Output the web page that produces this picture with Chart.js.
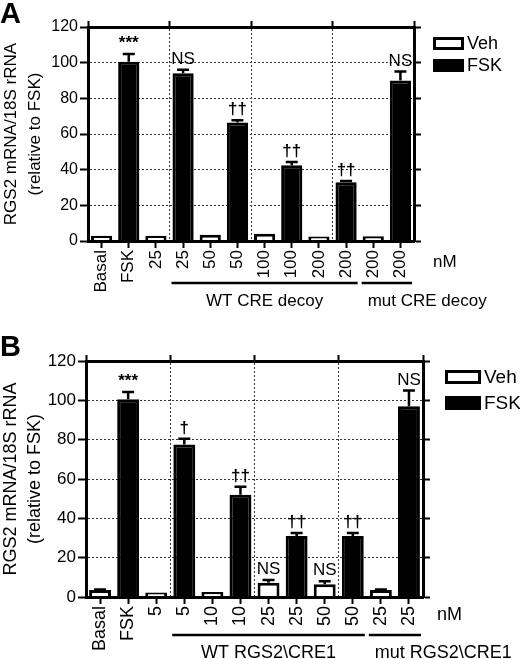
<!DOCTYPE html>
<html>
<head>
<meta charset="utf-8">
<script src="https://cdn.jsdelivr.net/npm/chart.js@4.4.0/dist/chart.umd.min.js"></script>
<style>
  body { margin: 0; background: #fff; width: 520px; height: 659px; position: relative; overflow: hidden; }
  canvas { position: absolute; left: 0; }
  .panel { position: absolute; left: 0; font: bold 29px Arial, "Liberation Sans", sans-serif; }
</style>
</head>
<body>
<canvas id="chartA" width="520" height="330" style="top:0"></canvas>
<canvas id="chartB" width="520" height="329" style="top:330px"></canvas>
<div class="panel" style="top:-3px">A</div>
<div class="panel" style="top:330px">B</div>
<script>
// panel A: CRE decoy
const labelsA = ['Basal', 'FSK', '25', '25', '50', '50', '100', '100', '200', '200', '200', '200'];
const vehA    = [3, null, 3, null, 3.5, null, 4, null, 2.5, null, 2.6, null];
const vehErrA = [0, null, 0, null, 0, null, 0, null, 0, null, 0, null];
const fskA    = [null, 100.5, null, 94, null, 66.5, null, 42.5, null, 33, null, 90];
const fskErrA = [null, 4.3, null, 2, null, 1.2, null, 1.8, null, 0.7, null, 5];
const marksA  = ['', '***', '', 'NS', '', '††', '', '††', '', '††', '', 'NS'];
const groupNamesA = ['WT CRE decoy', 'mut CRE decoy'];
const groupFromA  = [3, 10];
const groupToA    = [9, 11];

// panel B: RGS2\CRE1
const labelsB = ['Basal', 'FSK', '5', '5', '10', '10', '25', '25', '50', '50', '25', '25'];
const vehB    = [3.5, null, 2.3, null, 2.5, null, 7.3, null, 6.5, null, 3.5, null];
const vehErrB = [0.3, null, 0, null, 0, null, 1.3, null, 1.5, null, 0.3, null];
const fskB    = [null, 100.5, null, 77.5, null, 52, null, 31, null, 31, null, 97];
const fskErrB = [null, 3.7, null, 3, null, 4, null, 1.5, null, 1.5, null, 8];
const marksB  = ['', '***', '', '†', '', '††', 'NS', '††', 'NS', '††', '', 'NS'];
const groupNamesB = ['WT RGS2\\CRE1', 'mut RGS2\\CRE1'];
const groupFromB  = [3, 10];
const groupToB    = [9, 11];

const yTicks = [0, 20, 40, 60, 80, 100, 120];
const seriesNames = ['Veh', 'FSK'];
const unitLabel = 'nM';
const yTitle = ['RGS2 mRNA/18S rRNA', '(relative to FSK)'];

const FAMILY = 'Arial, "Liberation Sans", Helvetica, sans-serif';
Chart.defaults.color = '#000';
Chart.defaults.font.family = FAMILY;

// error bars, significance marks, group bars, legend
const extras = {
  id: 'extras',
  afterDatasetsDraw(chart, args, o) {
    const ctx = chart.ctx, y = chart.scales.y, x = chart.scales.x, area = chart.chartArea;
    const tops = [];
    ctx.save();
    ctx.strokeStyle = '#000';
    chart.data.datasets.forEach((ds, di) => {
      const meta = chart.getDatasetMeta(di);
      ds.data.forEach((v, i) => {
        if (v == null) return;
        const bx = meta.data[i].x;
        const e = ds.errors[i] || 0;
        const yv = y.getPixelForValue(v);
        const ye = y.getPixelForValue(v + e);
        tops[i] = e > 0 ? ye - 1 : yv;
        if (e > 0) {
          ctx.lineWidth = o.errWidth;
          ctx.beginPath();
          ctx.moveTo(bx, yv); ctx.lineTo(bx, ye);
          ctx.moveTo(bx - o.cap / 2, ye); ctx.lineTo(bx + o.cap / 2, ye);
          ctx.stroke();
        }
      });
    });
    ctx.fillStyle = '#000';
    ctx.textAlign = 'center';
    ctx.textBaseline = 'alphabetic';
    o.marks.forEach((m, i) => {
      if (!m) return;
      ctx.font = (m === 'NS' ? '' : 'bold ') + o.markFont + 'px ' + FAMILY;
      ctx.fillText(m, x.getPixelForValue(i), tops[i] - o.markGap);
    });

    // group underlines and names
    const half = (x.getPixelForValue(1) - x.getPixelForValue(0)) / 2;
    ctx.font = o.groupFont + 'px ' + FAMILY;
    ctx.textBaseline = 'middle';
    o.groupNames.forEach((g, k) => {
      const x1 = x.getPixelForValue(o.groupFrom[k]) - half + 2;
      const x2 = x.getPixelForValue(o.groupTo[k]) + half - 2;
      ctx.lineWidth = 2.5;
      ctx.beginPath();
      ctx.moveTo(x1, area.bottom + o.lineDy); ctx.lineTo(x2, area.bottom + o.lineDy);
      ctx.stroke();
      const w = ctx.measureText(g).width;
      if (w > x2 - x1) {
        ctx.textAlign = 'left';
        ctx.fillText(g, x1 + 6, area.bottom + o.textDy);
      } else {
        ctx.textAlign = 'center';
        ctx.fillText(g, (x1 + x2) / 2, area.bottom + o.textDy);
      }
    });
    ctx.textAlign = 'left';
    ctx.fillText(unitLabel, area.right + o.unitDx, area.bottom + o.unitDy);

    // legend
    chart.data.datasets.forEach((ds, k) => {
      const lx = area.right + o.legDx, ly = area.top + o.legDy[k];
      ctx.fillStyle = ds.backgroundColor;
      ctx.fillRect(lx, ly, o.boxW, o.boxH);
      ctx.lineWidth = 3;
      ctx.strokeRect(lx + 1.5, ly + 1.5, o.boxW - 3, o.boxH - 3);
      ctx.fillStyle = '#000';
      ctx.font = o.legFont + 'px ' + FAMILY;
      ctx.fillText(ds.label, lx + o.boxW + 3, ly + o.boxH / 2 + 1);
    });
    ctx.restore();
  }
};

function buildChart(id, d, L) {
  const yMin = yTicks[0], yMax = yTicks[yTicks.length - 1], step = yTicks[1] - yTicks[0];
  const clear = 'rgba(0,0,0,0)';
  const inner = i => i === 3 || i === 6 || i === 9;
  return new Chart(document.getElementById(id), {
    type: 'bar',
    data: {
      labels: d.labels,
      datasets: [
        { label: seriesNames[0], data: d.veh, errors: d.vehErr, backgroundColor: '#fff', borderColor: '#000', borderWidth: 3 },
        { label: seriesNames[1], data: d.fsk, errors: d.fskErr, backgroundColor: '#000', borderColor: '#000', borderWidth: 3 }
      ]
    },
    options: {
      responsive: false,
      animation: false,
      layout: { padding: { left: 0, top: 0, bottom: 0, right: L.w - L.right - L.rightAxis } },
      datasets: { bar: { barPercentage: L.barPct, categoryPercentage: 1 } },
      plugins: {
        legend: { display: false },
        tooltip: { enabled: false },
        extras: Object.assign({ marks: d.marks, groupNames: d.groupNames, groupFrom: d.groupFrom, groupTo: d.groupTo }, L.extras)
      },
      scales: {
        x: {
          position: 'bottom', stacked: true, offset: true,
          grid: { drawOnChartArea: false, offset: false, tickLength: L.xTick, tickWidth: 2, tickColor: '#000' },
          border: { width: 3, color: '#000', z: 1 },
          ticks: { autoSkip: false, minRotation: 90, maxRotation: 90, padding: 2, color: '#000', font: { size: L.xFont } },
          afterFit: s => { s.height = L.h - L.bottom; }
        },
        xTop: {
          type: 'category', position: 'top', offset: true,
          grid: {
            offset: true, lineWidth: 1, tickLength: 6, tickWidth: 2,
            color: c => inner(c.index) ? '#333' : clear,
            tickColor: c => (c.index === undefined || c.index % 3 === 0) ? '#000' : clear
          },
          border: { width: 3, color: '#000', z: 1, dash: [2, 2] },
          ticks: { display: false },
          afterFit: s => { s.height = L.top; }
        },
        y: {
          position: 'left', min: yMin, max: yMax,
          ticks: { stepSize: step, padding: 2, color: '#000', font: { size: L.yFont } },
          grid: {
            lineWidth: 1, tickLength: 8, tickWidth: 2, tickColor: '#000',
            color: c => (c.tick && c.tick.value > yMin && c.tick.value < yMax) ? '#333' : clear
          },
          border: { width: 3, color: '#000', z: 1, dash: [2, 2] },
          title: {
            display: true, text: yTitle, color: '#000',
            font: { size: L.titleFont, lineHeight: L.titleLH },
            padding: { top: L.titlePad, bottom: 0 }
          },
          afterFit: s => { s.width = L.left; }
        },
        yRight: {
          position: 'right', min: yMin, max: yMax,
          ticks: { display: false, stepSize: step },
          grid: { drawOnChartArea: false, tickLength: 7, tickWidth: 2, tickColor: '#000' },
          border: { width: 3, color: '#000', z: 1 },
          afterFit: s => { s.width = L.rightAxis; }
        }
      }
    },
    plugins: [extras]
  });
}

buildChart('chartA',
  { labels: labelsA, veh: vehA, vehErr: vehErrA, fsk: fskA, fskErr: fskErrA, marks: marksA,
    groupNames: groupNamesA, groupFrom: groupFromA, groupTo: groupToA },
  { w: 520, h: 330, left: 88, top: 27, right: 414, bottom: 241, rightAxis: 8, barPct: 0.78,
    xTick: 7, xFont: 17, yFont: 16, titleFont: 17, titleLH: 1.38, titlePad: 0,
    extras: { errWidth: 2.5, cap: 12, markFont: 17, markGap: 5, groupFont: 17, lineDy: 42, textDy: 60,
              unitDx: 19, unitDy: 21, legDx: 19, legDy: [10, 32], boxW: 31, boxH: 13, legFont: 18 } });

buildChart('chartB',
  { labels: labelsB, veh: vehB, vehErr: vehErrB, fsk: fskB, fskErr: fskErrB, marks: marksB,
    groupNames: groupNamesB, groupFrom: groupFromB, groupTo: groupToB },
  { w: 520, h: 329, left: 86, top: 31, right: 423, bottom: 267, rightAxis: 8, barPct: 0.78,
    xTick: 7, xFont: 18, yFont: 17, titleFont: 18, titleLH: 1.28, titlePad: 0,
    extras: { errWidth: 2.5, cap: 12, markFont: 17, markGap: 5, groupFont: 18, lineDy: 38, textDy: 56,
              unitDx: 14, unitDy: 18, legDx: 22, legDy: [9, 35], boxW: 36, boxH: 14, legFont: 19 } });
</script>
</body>
</html>
